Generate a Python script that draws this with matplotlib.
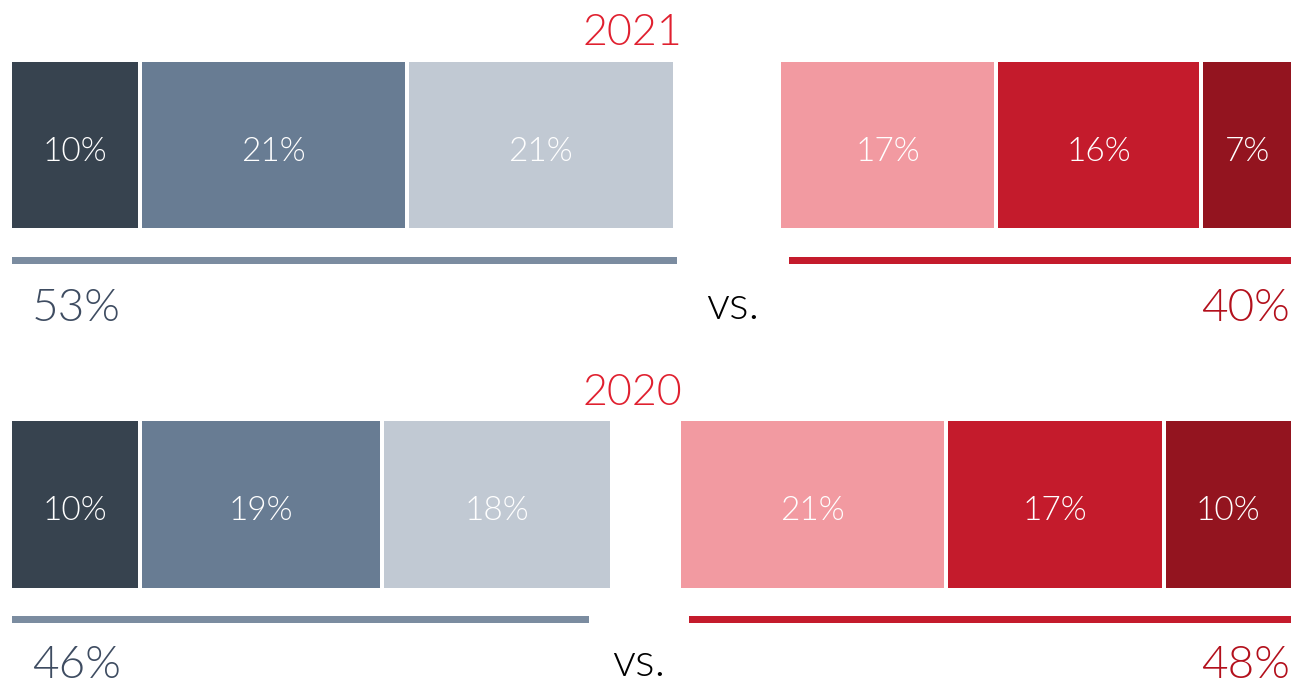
import matplotlib.pyplot as plt
from matplotlib.patches import Rectangle

years = ["2021", "2020"]
left_vals = [[10, 21, 21], [10, 19, 18]]
right_vals = [[17, 16, 7], [21, 17, 10]]
left_totals = [53, 46]
right_totals = [40, 48]

left_colors = ["#37434f", "#687c93", "#c1c9d3"]
right_colors = ["#f29aa1", "#c41b2c", "#93141f"]
left_line = "#7b8ca0"
right_line = "#c41b2c"

W, H = 1291, 684
px = 12.55          # pixels per percentage point
gap = 4 / px        # white gap between segments
x0 = 12 / px        # left margin
xmax = W / px

plt.rcParams["font.family"] = ["Lato", "DejaVu Sans"]

fig = plt.figure(figsize=(W / 100, H / 100), dpi=100)
ax = fig.add_axes([0, 0, 1, 1])
ax.set_xlim(0, xmax)
ax.set_ylim(H, 0)
ax.axis("off")

# vertical layout per row (pixels): bar top, bar bottom, line y, total baseline, year baseline
rows = [(62, 228, 260, 321, 45), (421, 588, 619, 678, 405)]


def seg_label(x, y, v):
    ax.text(x, y, f"{v}%", color="white", ha="center", va="center",
            fontsize=24, fontweight=300)


for r, (top, bot, ly, tb, yb) in enumerate(rows):
    lv, rv = left_vals[r], right_vals[r]
    # left stack
    x = x0
    for v, c in zip(lv, left_colors):
        ax.add_patch(Rectangle((x, top), v, bot - top, color=c, lw=0))
        seg_label(x + v / 2, (top + bot) / 2 + 7, v)
        x += v + gap
    # right stack, right aligned
    x = xmax - sum(rv) - gap * (len(rv) - 1)
    for v, c in zip(rv, right_colors):
        ax.add_patch(Rectangle((x, top), v, bot - top, color=c, lw=0))
        seg_label(x + v / 2, (top + bot) / 2 + 7, v)
        x += v + gap
    # total lines
    lt, rt = left_totals[r], right_totals[r]
    ax.add_patch(Rectangle((x0, ly - 3.5), lt, 7, color=left_line, lw=0))
    ax.add_patch(Rectangle((xmax - rt, ly - 3.5), rt, 7, color=right_line, lw=0))
    # totals
    ax.text(32 / px, tb, f"{lt}%", color="#3e4c61", ha="left", va="baseline",
            fontsize=33, fontweight=300)
    ax.text(xmax - 1 / px, tb, f"{rt}%", color="#b3101c", ha="right", va="baseline",
            fontsize=33, fontweight=300)
    ax.text((x0 + lt + xmax - rt) / 2, tb - 2, "vs.", color="black",
            ha="center", va="baseline", fontsize=33, fontweight=300)
    # year
    ax.text(682 / px, yb, years[r], color="#e0202f", ha="right", va="baseline",
            fontsize=31, fontweight=300)

fig.savefig("out.png", dpi=100)
